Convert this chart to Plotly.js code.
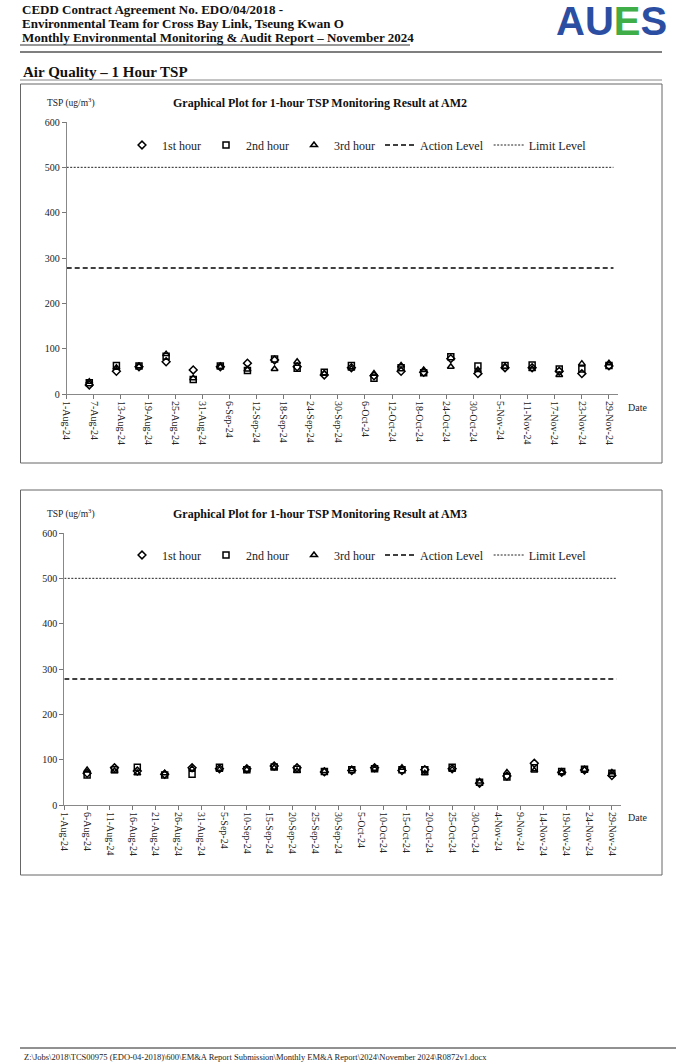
<!DOCTYPE html>
<html>
<head>
<meta charset="utf-8">
<script src="https://cdn.plot.ly/plotly-3.0.1.min.js"></script>
<style>
html,body{margin:0;padding:0;background:#fff;}
#chart{width:676px;height:1064px;}
</style>
</head>
<body>
<div id="chart"></div>
<script>
// ---------------- DATA ----------------
const dates = ['2024-08-06','2024-08-12','2024-08-17','2024-08-23','2024-08-29','2024-09-04','2024-09-10','2024-09-16','2024-09-21','2024-09-27','2024-10-03','2024-10-08','2024-10-14','2024-10-19','2024-10-25','2024-10-31','2024-11-06','2024-11-12','2024-11-18','2024-11-23','2024-11-29'];

const am2Hour1 = [20,50,60,71,53,60,68,75,60,42,58,40,50,48,78,45,58,58,50,45,62];
const am2Hour2 = [25,63,62,83,32,62,52,77,57,48,63,35,58,47,82,62,63,64,55,55,63];
const am2Hour3 = [27,58,61,88,35,60,54,55,71,46,56,45,63,53,60,53,60,55,42,67,68];

const am3Hour1 = [70,82,75,68,82,80,80,86,82,73,76,82,76,78,80,48,64,92,72,77,65];
const am3Hour2 = [66,78,83,66,68,83,78,84,79,74,78,80,78,78,83,50,62,82,74,79,70];
const am3Hour3 = [77,75,70,70,80,78,78,82,75,75,79,80,82,70,78,52,72,76,72,78,72];

const actionLevel = 278;
const limitLevel = 500;
const levelDates = ['2024-08-01','2024-11-30'];
const axisRange = ['2024-08-01','2024-12-01'];
const seriesNames = ['1st hour','2nd hour','3rd hour','Action Level','Limit Level'];
const stations = ['AM2','AM3'];

// ---------------- HELPERS (layout only) ----------------
const W = 676, H = 1064;
const px = v => v / W;
const py = v => 1 - v / H;
const SERIF = '"Liberation Serif", "Times New Roman", serif';
const DAY = 86400000;

function stationTraces(h1, h2, h3, xa, ya, lg) {
  const mk = (sym) => ({symbol: sym, size: 6, color: '#000', line: {color: '#000', width: 1.5}});
  return [
    {x: dates, y: h1, name: seriesNames[0], type: 'scatter', mode: 'markers', marker: mk('diamond-open'), xaxis: xa, yaxis: ya, legend: lg},
    {x: dates, y: h2, name: seriesNames[1], type: 'scatter', mode: 'markers', marker: mk('square-open'), xaxis: xa, yaxis: ya, legend: lg},
    {x: dates, y: h3, name: seriesNames[2], type: 'scatter', mode: 'markers', marker: mk('triangle-up-open'), xaxis: xa, yaxis: ya, legend: lg},
    {x: levelDates, y: levelDates.map(() => actionLevel), name: seriesNames[3], type: 'scatter', mode: 'lines',
      line: {color: '#000', width: 1.6, dash: '5px,3px'}, xaxis: xa, yaxis: ya, legend: lg},
    {x: levelDates, y: levelDates.map(() => limitLevel), name: seriesNames[4], type: 'scatter', mode: 'lines',
      line: {color: '#222', width: 1, dash: '2px,1.5px'}, xaxis: xa, yaxis: ya, legend: lg}
  ];
}

const data = [].concat(
  stationTraces(am2Hour1, am2Hour2, am2Hour3, 'x', 'y', 'legend'),
  stationTraces(am3Hour1, am3Hour2, am3Hour3, 'x2', 'y2', 'legend2')
);

function xAxis(d0, d1, anchor, dticks) {
  return {
    domain: [px(d0), px(d1)], anchor: anchor, type: 'date', range: axisRange,
    tick0: axisRange[0], dtick: dticks * DAY, tickformat: '%-d-%b-%y', tickangle: 90,
    ticks: 'outside', ticklen: 4, tickcolor: '#777', showline: true, linecolor: '#888', linewidth: 1,
    showgrid: false, zeroline: false, tickfont: {family: SERIF, size: 10, color: '#222'}, fixedrange: true
  };
}
function yAxis(top, bottom, anchor) {
  return {
    domain: [py(bottom), py(top)], anchor: anchor, range: [0, 600], dtick: 100,
    ticks: 'outside', ticklen: 4, tickcolor: '#777', showline: true, linecolor: '#888', linewidth: 1,
    showgrid: false, zeroline: false, tickfont: {family: SERIF, size: 10, color: '#222'}, fixedrange: true
  };
}
function legendAt(yc) {
  return {
    orientation: 'h', x: px(122), xanchor: 'left', y: py(yc), yanchor: 'middle',
    font: {family: SERIF, size: 12, color: '#222'}, bgcolor: 'rgba(0,0,0,0)', borderwidth: 0,
    itemclick: false, itemdoubleclick: false, tracegroupgap: 0
  };
}

const ann = (x, y, text, opts) => Object.assign({
  xref: 'paper', yref: 'paper', x: px(x), y: py(y), text: text, showarrow: false,
  xanchor: 'left', yanchor: 'middle', font: {family: SERIF, size: 13, color: '#111'}
}, opts || {});

const annotations = [
  ann(20, 9, '<b>CEDD Contract Agreement No. EDO/04/2018 -</b>'),
  ann(20, 24, '<b>Environmental Team for Cross Bay Link, Tseung Kwan O</b>'),
  ann(20, 38, '<b>Monthly Environmental Monitoring &amp; Audit Report – November 2024</b>'),
  ann(554, 21, '<b><span style="color:#2b4ea2">AU</span><span style="color:#3fae49">E</span><span style="color:#2b4ea2">S</span></b>',
      {font: {family: '"Liberation Sans", Arial, sans-serif', size: 40, color: '#2b4ea2'}}),
  ann(21, 72, '<b>Air Quality – 1 Hour TSP</b>', {font: {family: SERIF, size: 15, color: '#111'}}),
  // chart 1 texts
  ann(45, 103, 'TSP (ug/m<sup>3</sup>)', {font: {family: SERIF, size: 9.5, color: '#222'}}),
  ann(320, 103, '<b>Graphical Plot for 1-hour TSP Monitoring Result at ' + stations[0] + '</b>', {xanchor: 'center', font: {family: SERIF, size: 12, color: '#111'}}),
  ann(626, 407, 'Date', {font: {family: SERIF, size: 10, color: '#222'}}),
  // chart 2 texts
  ann(45, 514, 'TSP (ug/m<sup>3</sup>)', {font: {family: SERIF, size: 9.5, color: '#222'}}),
  ann(320, 514, '<b>Graphical Plot for 1-hour TSP Monitoring Result at ' + stations[1] + '</b>', {xanchor: 'center', font: {family: SERIF, size: 12, color: '#111'}}),
  ann(626, 817, 'Date', {font: {family: SERIF, size: 10, color: '#222'}}),
  // footer
  ann(22, 1057, 'Z:\\Jobs\\2018\\TCS00975 (EDO-04-2018)\\600\\EM&amp;A Report Submission\\Monthly EM&amp;A Report\\2024\\November 2024\\R0872v1.docx',
      {font: {family: SERIF, size: 8.5, color: '#222'}})
];

const line = (x0, y0, x1, y1, color, w) => ({type: 'line', xref: 'paper', yref: 'paper', x0: px(x0), y0: py(y0), x1: px(x1), y1: py(y1), line: {color: color, width: w}});
const rect = (x0, y0, x1, y1) => ({type: 'rect', xref: 'paper', yref: 'paper', x0: px(x0), y0: py(y0), x1: px(x1), y1: py(y1), line: {color: '#666', width: 1}, fillcolor: 'rgba(0,0,0,0)'});

const shapes = [
  line(20, 45, 410, 45, '#333', 1),
  line(20, 52, 662, 52, '#555', 1.5),
  line(20, 80, 662, 80, '#888', 1),
  rect(20.5, 84, 662, 463),
  rect(20.5, 490, 662, 875),
  line(20, 1048, 676, 1048, '#222', 1)
];

const layout = {
  width: W, height: H, margin: {l: 0, r: 0, t: 0, b: 0},
  paper_bgcolor: '#fff', plot_bgcolor: 'rgba(0,0,0,0)',
  showlegend: true,
  xaxis: xAxis(66.7, 618, 'y', 6),
  yaxis: yAxis(122, 394, 'x'),
  xaxis2: xAxis(64.3, 621, 'y2', 5),
  yaxis2: yAxis(533, 805, 'x2'),
  legend: legendAt(145),
  legend2: legendAt(555),
  annotations: annotations,
  shapes: shapes
};

Plotly.newPlot('chart', data, layout, {displayModeBar: false, staticPlot: true});
</script>
</body>
</html>
